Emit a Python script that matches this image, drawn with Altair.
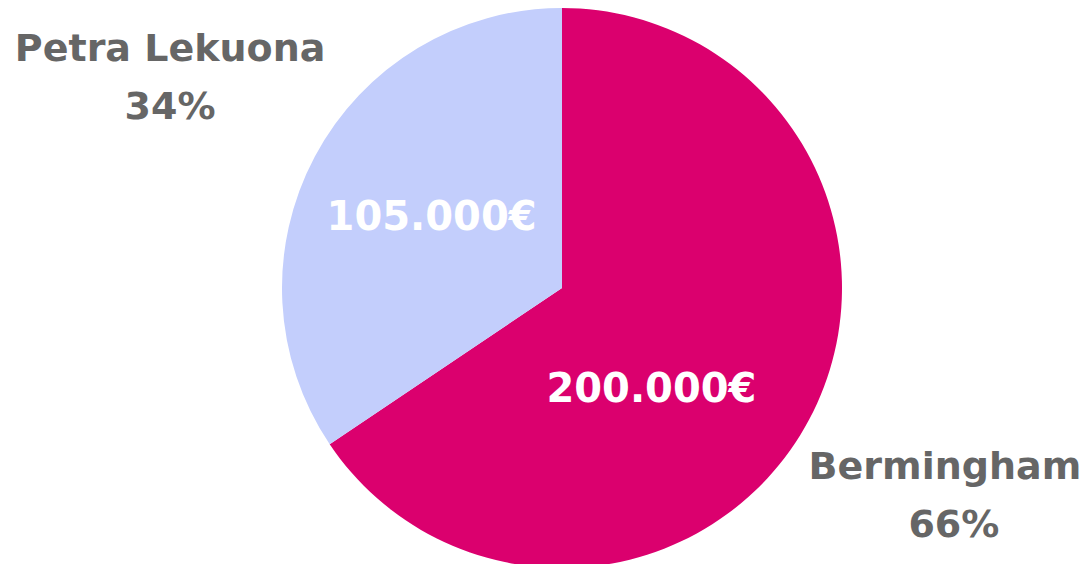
import altair as alt
import pandas as pd

names = ["Bermingham", "Petra Lekuona"]
values = [200000, 105000]
amount_labels = ["200.000€", "105.000€"]
pct_labels = ["66%", "34%"]
order_idx = [0, 1]
colors = ["#DB006E", "#C3CEFC"]

df = pd.DataFrame({
    "name": names,
    "value": values,
    "amount": amount_labels,
    "pct": pct_labels,
    "idx": order_idx,
})

CX, CY = 554, 280
FONT = "DejaVu Sans"

base = alt.Chart(df).encode(
    theta=alt.Theta("value:Q", stack=True),
    order=alt.Order("idx:Q", sort="ascending"),
    x=alt.value(CX),
    y=alt.value(CY),
)

arcs = base.mark_arc(outerRadius=280).encode(
    color=alt.Color("name:N", scale=alt.Scale(domain=names, range=colors), legend=None),
)

def txt(only_name, field, radius, color, size, dx=0, dy=0):
    return base.mark_text(
        radius=radius, font=FONT, fontWeight="bold", fontSize=size, color=color,
        align="center", baseline="middle", dx=dx, dy=dy,
    ).encode(
        text=alt.condition(alt.datum.name == only_name, f"{field}:N", alt.value("")),
    )

layers = [
    arcs,
    txt("Petra Lekuona", "amount", 150, "white", 40, dx=2),
    txt("Bermingham", "amount", 150, "white", 40, dx=-43, dy=32),
    txt("Petra Lekuona", "name", 444, "#666666", 38, dy=-29),
    txt("Petra Lekuona", "pct", 444, "#666666", 38, dy=29),
    txt("Bermingham", "name", 444, "#666666", 38, dx=-9, dy=-29),
    txt("Bermingham", "pct", 444, "#666666", 38, dy=29),
]

chart = alt.layer(*layers).properties(
    width=1075, height=556, padding=0,
    autosize=alt.AutoSizeParams(type="none"),
).configure_view(stroke=None)

chart.save("out.html", embed_options={"renderer": "svg", "actions": False})
